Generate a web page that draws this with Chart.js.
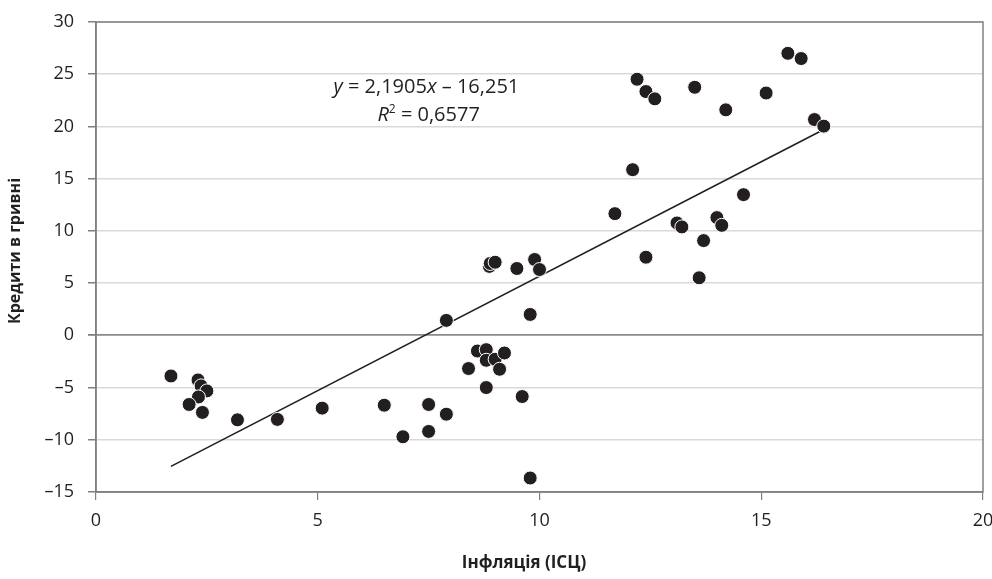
<!DOCTYPE html>
<html>
<head>
<meta charset="utf-8">
<script src="https://cdn.jsdelivr.net/npm/chart.js@4.4.0/dist/chart.umd.min.js"></script>
<style>
    html, body { margin: 0; padding: 0; background: #fff; }
    #wrap { width: 992px; height: 579px; }
</style>
</head>
<body>
<div id="wrap"><canvas id="chart" width="992" height="579"></canvas></div>
<script>
// Data
const inflation = [1.69, 2.30, 2.37, 2.50, 2.31, 2.10, 2.40, 3.19, 4.09, 5.10,
    6.50, 6.92, 7.50, 7.50, 7.90, 7.90,
    8.40, 8.60, 8.80, 8.80, 8.80, 9.00, 9.10, 9.21, 9.61, 9.79, 9.79,
    8.87, 8.89, 9.00, 9.49, 9.89, 10.00,
    11.70, 12.10, 12.20, 12.40, 12.60, 12.40, 13.10, 13.21, 13.50, 13.60,
    13.70, 14.00, 14.11, 14.20, 14.60, 15.11, 15.60, 15.90, 16.20, 16.41];
const credits = [-3.89, -4.27, -4.84, -5.32, -5.90, -6.62, -7.38, -8.09, -8.05, -6.97,
    -6.69, -9.71, -6.62, -9.20, -7.55, 1.43,
    -3.18, -1.50, -1.37, -2.39, -5.00, -2.29, -3.25, -1.69, -5.86, 2.00, -13.66,
    6.60, 6.88, 7.00, 6.40, 7.26, 6.30,
    11.65, 15.86, 24.52, 23.34, 22.64, 7.48, 10.76, 10.38, 23.75, 5.51,
    9.07, 11.27, 10.53, 21.59, 13.47, 23.20, 27.00, 26.50, 20.66, 20.03];

// Trendline end points (as drawn)
const trendX = [1.69, 16.41];
const trendY = [-12.55, 19.70];

const xTicks = [0, 5, 10, 15, 20];
const yTicks = [-15, -10, -5, 0, 5, 10, 15, 20, 25, 30];

const xTitle = 'Інфляція (ІСЦ)';
const yTitle = 'Кредити в гривні';
const eqLine1 = ['y', ' = 2,1905', 'x', ' \u2013 16,251'];
const eqLine2 = ['R', '2', ' = 0,6577'];

const FONT = '"Open Sans", "Noto Sans", sans-serif';
const INK = '#231f20';

const points = inflation.map((x, i) => ({ x: x, y: credits[i] }));
const trend = trendX.map((x, i) => ({ x: x, y: trendY[i] }));

// frame round the plot area, axis titles, regression label
const framePlugin = {
    id: 'frame',
    afterDatasetsDraw(chart) {
        const { ctx, chartArea: a } = chart;
        ctx.save();
        ctx.strokeStyle = '#808080';
        ctx.lineWidth = 1.5;
        ctx.strokeRect(a.left, a.top, a.right - a.left, a.bottom - a.top);
        ctx.restore();
    },
    afterDraw(chart) {
        const { ctx } = chart;
        const xs = chart.scales.x, ys = chart.scales.y;
        ctx.save();
        ctx.fillStyle = INK;

        // axis titles
        ctx.textAlign = 'center';
        ctx.textBaseline = 'middle';
        ctx.font = 'bold 17px ' + FONT;
        ctx.fillText(xTitle, 524, 563);
        ctx.save();
        ctx.translate(15, 251);
        ctx.rotate(-Math.PI / 2);
        ctx.font = 'bold 16px ' + FONT;
        ctx.fillText(yTitle, 0, 0);
        ctx.restore();

        ctx.textAlign = 'left';
        ctx.textBaseline = 'alphabetic';

        // line 1
        const ital = 'italic 20px ' + FONT, reg = '20px ' + FONT;
        let parts = [[eqLine1[0], ital], [eqLine1[1], reg], [eqLine1[2], ital], [eqLine1[3], reg]];
        let w = 0;
        parts.forEach(p => { ctx.font = p[1]; w += ctx.measureText(p[0]).width; });
        let cx = xs.getPixelForValue(7.45), by = ys.getPixelForValue(23.2);
        let x = cx - w / 2;
        parts.forEach(p => { ctx.font = p[1]; ctx.fillText(p[0], x, by); x += ctx.measureText(p[0]).width; });

        // line 2
        const sup = '12px ' + FONT;
        parts = [[eqLine2[0], ital, 0], [eqLine2[1], sup, -8], [eqLine2[2], reg, 0]];
        w = 0;
        parts.forEach(p => { ctx.font = p[1]; w += ctx.measureText(p[0]).width; });
        cx = xs.getPixelForValue(7.5);
        by = ys.getPixelForValue(20.5);
        x = cx - w / 2;
        parts.forEach(p => { ctx.font = p[1]; ctx.fillText(p[0], x, by + p[2]); x += ctx.measureText(p[0]).width; });
        ctx.restore();
    }
};

new Chart(document.getElementById('chart'), {
    type: 'scatter',
    data: {
        datasets: [
            {
                data: points,
                backgroundColor: INK,
                borderColor: '#ffffff',
                borderWidth: 1,
                pointRadius: 7,
                order: 0
            },
            {
                type: 'line',
                data: trend,
                borderColor: INK,
                borderWidth: 1.6,
                pointRadius: 0,
                fill: false,
                order: 1
            }
        ]
    },
    options: {
        responsive: false,
        animation: false,
        layout: { padding: { top: 22, right: 9, left: 0, bottom: 0 } },
        plugins: {
            legend: { display: false },
            tooltip: { enabled: false }
        },
        scales: {
            x: {
                type: 'linear',
                min: 0,
                max: 20,
                afterBuildTicks: s => { s.ticks = xTicks.map(v => ({ value: v })); },
                afterFit: s => { s.height = 87; s.paddingLeft = 0; s.paddingRight = 0; },
                border: { color: '#808080', width: 1.5 },
                grid: { drawOnChartArea: false, drawTicks: true, tickLength: 8, tickColor: '#808080', lineWidth: 1.2 },
                ticks: { color: INK, font: { family: FONT, size: 18 }, padding: 10 }
            },
            y: {
                type: 'linear',
                min: -15,
                max: 30,
                afterBuildTicks: s => { s.ticks = yTicks.map(v => ({ value: v })); },
                afterFit: s => { s.width = 96; s.paddingTop = 0; s.paddingBottom = 0; },
                border: { color: '#808080', width: 1.5 },
                grid: {
                    color: c => (c.tick && c.tick.value === 0) ? '#8a8a8a' : '#d9d9d9',
                    lineWidth: c => (c.tick && c.tick.value === 0) ? 1.8 : 1.5,
                    drawTicks: true,
                    tickLength: 8,
                    tickColor: '#808080'
                },
                ticks: {
                    color: INK,
                    font: { family: FONT, size: 18 },
                    padding: 14,
                    callback: v => (v < 0 ? '\u2013' + Math.abs(v) : '' + v)
                }
            }
        }
    },
    plugins: [framePlugin]
});
</script>
</body>
</html>
